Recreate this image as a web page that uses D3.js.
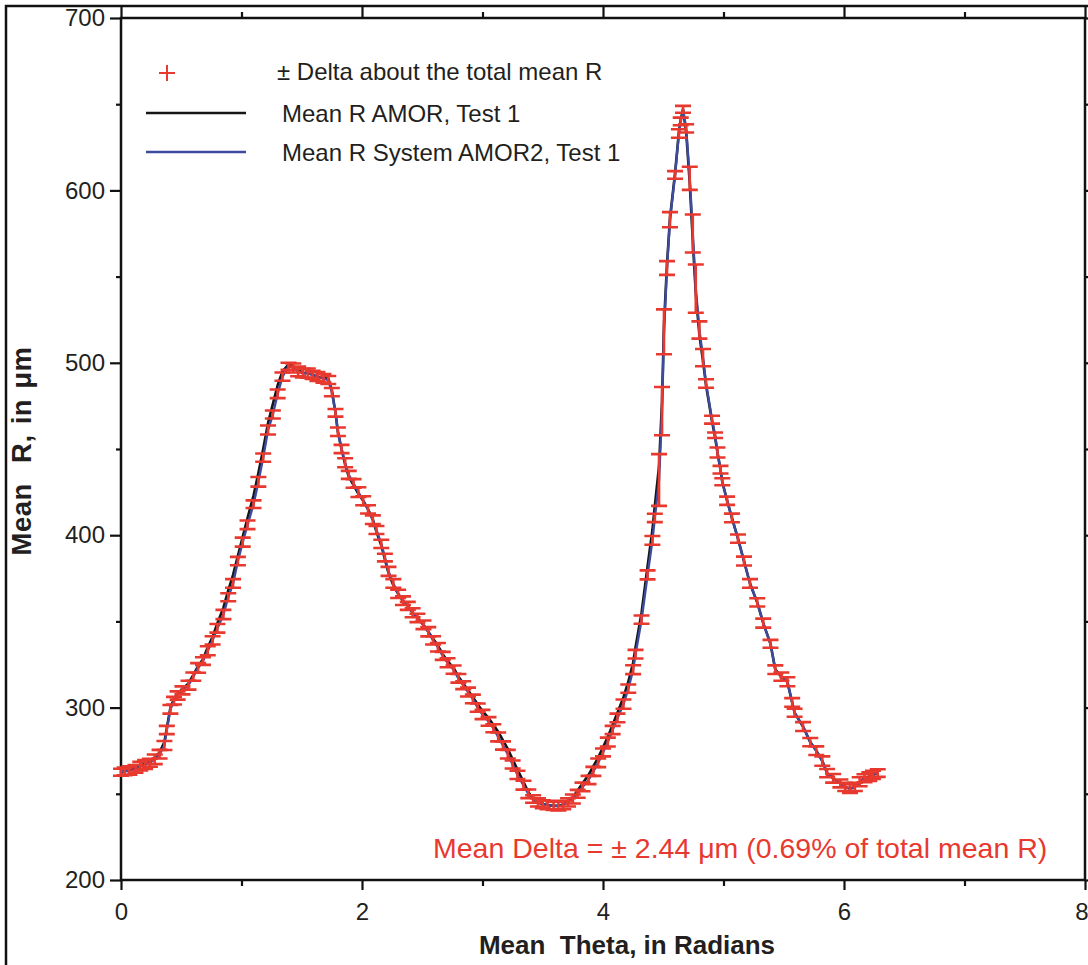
<!DOCTYPE html>
<html>
<head>
<meta charset="utf-8">
<script src="https://cdn.jsdelivr.net/npm/d3@7"></script>
<style>
  html, body { margin: 0; padding: 0; background: #fff; }
  svg { display: block; }
  text { font-family: "Liberation Sans", Arial, Helvetica, sans-serif; fill: #231f20; }
</style>
</head>
<body>
<svg id="chart" width="1088" height="965"></svg>
<script>
// ---- data ----
const theta = [0.00,0.03,0.07,0.12,0.16,0.20,0.24,0.28,0.32,0.36,0.38,0.41,0.44,0.47,0.51,0.56,0.60,0.64,0.68,0.72,
  0.76,0.80,0.85,0.89,0.93,0.97,1.01,1.05,1.10,1.14,1.18,1.22,1.26,1.30,1.34,1.39,1.43,1.47,1.51,1.55,
  1.59,1.63,1.68,1.72,1.75,1.78,1.80,1.83,1.86,1.89,1.93,1.97,2.01,2.05,2.09,2.12,2.16,2.19,2.22,2.26,
  2.30,2.34,2.38,2.42,2.46,2.51,2.55,2.59,2.63,2.67,2.71,2.76,2.80,2.84,2.88,2.92,2.96,3.00,3.05,3.09,
  3.13,3.17,3.21,3.25,3.29,3.34,3.38,3.42,3.46,3.50,3.54,3.59,3.63,3.67,3.71,3.75,3.79,3.83,3.88,3.92,
  3.96,4.00,4.04,4.08,4.12,4.17,4.21,4.25,4.27,4.32,4.37,4.41,4.43,4.465,4.49,4.506,4.531,4.556,4.598,4.63,
  4.645,4.664,4.69,4.72,4.745,4.77,4.80,4.83,4.855,4.905,4.93,4.95,4.975,4.99,5.03,5.07,5.12,5.17,5.22,5.28,
  5.33,5.39,5.43,5.48,5.53,5.57,5.59,5.66,5.72,5.77,5.82,5.86,5.91,5.97,6.01,6.05,6.09,6.13,6.17,6.21,
  6.24,6.28];

// Mean R System AMOR2, Test 1 (blue line; also the centre of the red ± Delta bars)
const rAmor2 = [262.5,263,263.5,264.5,266,267,268,270,273,278,287,299,304,307,310,313,318,323,327,333,
  339,346,354,364,372,385,396,406,418,431,445,461,470,482,492,498,497,495,494,494,
  493,492,491,490,483,471,460,450,442,435,430,425,420,415,409,403,395,387,379,372,
  366,362,359,355,352,348,344,339,335,330,326,322,317,313,309,305,300,296,292,288,
  283,278,273,267,261,255,250,247,245,244,243.5,243,243,243.5,245,247,250,254,258,263,
  268,274,280,287,294,302,311,322,331,351,377,397,410,432,472,518,555,583,609,633,
  640,647,636,607,575,543,519,503,488,467,458,448,438,431,420,410,398,385,372,361,
  349,337,322,318,315,303,297,289,280,275,269,262,259,256,254,253,254,257,259,260,
  261,262];

// Mean R AMOR, Test 1 (black line)
const rAmor = [262.5,263,264,265,266.5,267.5,269,271,274,280,288,300,305,308,311,314,319,324,328,335,
  341,349,358,368,377,388,399,410,423,436,450,465,476,487,495,499,498,496,494,494,
  493,492,491,491,484,471,460,450,441,434,429,424,420,415,409,402,394,386,378,371,
  366,362,359,355,352,348,344,340,336,331,327,323,318,314,310,306,302,298,294,290,
  286,281,276,270,264,257,251,247,245,244,243.5,243,243,244,246,248,252,256,261,266,
  271,277,283,290,297,306,315,326,335,355,382,403,417,440,478,522,557,584,610,634,
  641,647,634,604,571,540,516,501,487,466,457,448,438,431,420,410,398,385,372,361,
  349,337,322,318,315,303,297,289,280,275,269,262,259,256,254,253,254,257,259,260,
  261,262];

// ± Delta at each point (µm)
const delta = [2.0,2.2,2.4,2.2,2.5,2.6,2.3,2.8,2.5,2.6,2.4,2.5,2.2,2.4,2.3,2.6,2.4,2.8,2.2,2.6,
  2.4,2.5,2.7,2.3,2.5,2.4,2.6,2.5,2.2,2.8,2.4,2.6,2.3,2.5,2.4,2.0,2.6,2.8,2.5,2.7,
  2.4,2.6,2.5,2.3,2.4,2.2,2.5,2.4,2.6,2.3,2.5,2.8,2.6,2.4,2.5,2.3,2.4,2.2,2.6,2.5,
  2.4,2.5,2.3,2.6,2.4,2.5,2.7,2.4,2.5,2.3,2.6,2.4,2.5,2.3,2.6,2.5,2.4,2.7,2.5,2.3,
  2.6,2.4,2.5,2.3,2.4,2.6,2.5,2.2,2.4,2.3,2.5,2.4,2.6,2.5,2.4,2.6,2.3,2.5,2.4,2.6,
  2.5,2.3,2.6,2.4,2.5,2.7,2.4,2.6,2.5,2.4,2.6,2.5,2.4,15,14,13,4,4.4,2.2,2.5,
  2.2,2.0,2.4,6.7,11,14,5,5,2.5,2.3,1.6,2.9,2.2,2.0,2.4,2.5,2.4,2.6,2.5,2.4,
  2.6,2.3,2.5,2.4,2.6,2.5,2.3,2.6,2.4,2.5,2.7,2.4,2.5,2.3,2.4,2.5,2.4,2.6,2.3,2.5,
  2.4,2.2];

const xTicks = [0, 2, 4, 6, 8];
const xMinorTicks = [1, 3, 5, 7];
const yTicks = [200, 300, 400, 500, 600, 700];
const yMinorTicks = [250, 350, 450, 550, 650];

const legendLabels = ["± Delta about the total mean R", "Mean R AMOR, Test 1", "Mean R System AMOR2, Test 1"];
const xTitle = "Mean  Theta, in Radians";
const yTitle = "Mean  R, in μm";
const note = "Mean Delta = ± 2.44 μm (0.69% of total mean R)";

// ---- drawing ----
const RED = "#e8392f", BLUE = "#3d4b9e", BLACK = "#151515";
const svg = d3.select("#chart");
svg.append("rect").attr("width", 1088).attr("height", 965).attr("fill", "#fff");

const x = d3.scaleLinear().domain([0, 8]).range([121, 1085]);
const y = d3.scaleLinear().domain([200, 700]).range([880, 18]);

// outer figure border (left and top)
svg.append("path").attr("d", "M6,965 V6 H1088").attr("fill", "none")
  .attr("stroke", "#111").attr("stroke-width", 2.5);

function styleAxis(g) {
  g.select(".domain").remove();
  g.selectAll("line").attr("stroke", "#111").attr("stroke-width", 2.2);
  g.selectAll("text").attr("font-size", 24).attr("fill", "#231f20")
    .attr("font-family", '"Liberation Sans", Arial, sans-serif');
}

const xAxisG = svg.append("g").attr("transform", "translate(0,880)")
  .call(d3.axisBottom(x).tickValues(xTicks).tickSize(10).tickPadding(13).tickFormat(d3.format("d")))
  .call(styleAxis);
// last label sits against the right edge of the picture, as in the reference
xAxisG.selectAll(".tick text").filter(d => d === 8).attr("text-anchor", "end").attr("dx", 3);

svg.append("g").attr("transform", "translate(0,880)")
  .call(d3.axisBottom(x).tickValues(xMinorTicks).tickSize(6).tickFormat(""))
  .call(styleAxis);
svg.append("g").attr("transform", "translate(0,18)")
  .call(d3.axisTop(x).tickValues(xTicks).tickSize(12).tickFormat(""))
  .call(styleAxis);
svg.append("g").attr("transform", "translate(0,18)")
  .call(d3.axisTop(x).tickValues(xMinorTicks).tickSize(6).tickFormat(""))
  .call(styleAxis);
svg.append("g").attr("transform", "translate(121,0)")
  .call(d3.axisLeft(y).tickValues(yTicks).tickSize(11).tickPadding(5).tickFormat(d3.format("d")))
  .call(styleAxis);
svg.append("g").attr("transform", "translate(121,0)")
  .call(d3.axisLeft(y).tickValues(yMinorTicks).tickSize(5).tickFormat(""))
  .call(styleAxis);
svg.append("g").attr("transform", "translate(1085,0)")
  .call(d3.axisRight(y).tickValues(yTicks).tickSize(8).tickFormat(""))
  .call(styleAxis);
svg.append("g").attr("transform", "translate(1085,0)")
  .call(d3.axisRight(y).tickValues(yMinorTicks).tickSize(5).tickFormat(""))
  .call(styleAxis);

// plot frame
svg.append("rect").attr("x", x(0)).attr("y", y(700))
  .attr("width", x(8) - x(0)).attr("height", y(200) - y(700))
  .attr("fill", "none").attr("stroke", "#111").attr("stroke-width", 2.5);

// lines
const idx = d3.range(theta.length);
const lineBlack = d3.line().x(i => x(theta[i])).y(i => y(rAmor[i]));
const lineBlue = d3.line().x(i => x(theta[i])).y(i => y(rAmor2[i]));
svg.append("path").attr("d", lineBlack(idx)).attr("fill", "none")
  .attr("stroke", BLACK).attr("stroke-width", 2.6).attr("stroke-linejoin", "round");
svg.append("path").attr("d", lineBlue(idx)).attr("fill", "none")
  .attr("stroke", BLUE).attr("stroke-width", 2.4).attr("stroke-linejoin", "round");

// error bars
const cap = 8;
svg.append("g").selectAll("path").data(idx).join("path")
  .attr("d", i => {
    const cx = x(theta[i]), yt = y(rAmor2[i] + delta[i]), yb = y(rAmor2[i] - delta[i]);
    return `M${cx - cap},${yt}H${cx + cap}M${cx},${yt}V${yb}M${cx - cap},${yb}H${cx + cap}`;
  })
  .attr("fill", "none").attr("stroke", RED).attr("stroke-width", 2.6);

// legend
const lg = svg.append("g");
lg.append("path").attr("d", "M159,73H175M167,65V81").attr("stroke", RED).attr("stroke-width", 2);
lg.append("line").attr("x1", 146).attr("x2", 246).attr("y1", 113).attr("y2", 113)
  .attr("stroke", BLACK).attr("stroke-width", 2.4);
lg.append("line").attr("x1", 146).attr("x2", 246).attr("y1", 152).attr("y2", 152)
  .attr("stroke", BLUE).attr("stroke-width", 2.4);
lg.selectAll("text").data(legendLabels).join("text")
  .attr("x", (d, i) => i === 0 ? 277 : 282)
  .attr("y", (d, i) => [80, 122, 161][i])
  .attr("font-size", 24).text(d => d);

// annotation
svg.append("text").attr("x", 433).attr("y", 858).attr("font-size", 28.5)
  .style("fill", RED).text(note);

// axis titles
svg.append("text").attr("x", 627).attr("y", 954).attr("text-anchor", "middle")
  .attr("font-size", 26).attr("font-weight", "bold").style("white-space", "pre").text(xTitle);
svg.append("text").attr("transform", "translate(31,451) rotate(-90)").attr("text-anchor", "middle")
  .attr("font-size", 27.5).attr("font-weight", "bold").style("white-space", "pre")
  .style("word-spacing", "2px").style("letter-spacing", "0.5px").text(yTitle);
</script>
</body>
</html>
